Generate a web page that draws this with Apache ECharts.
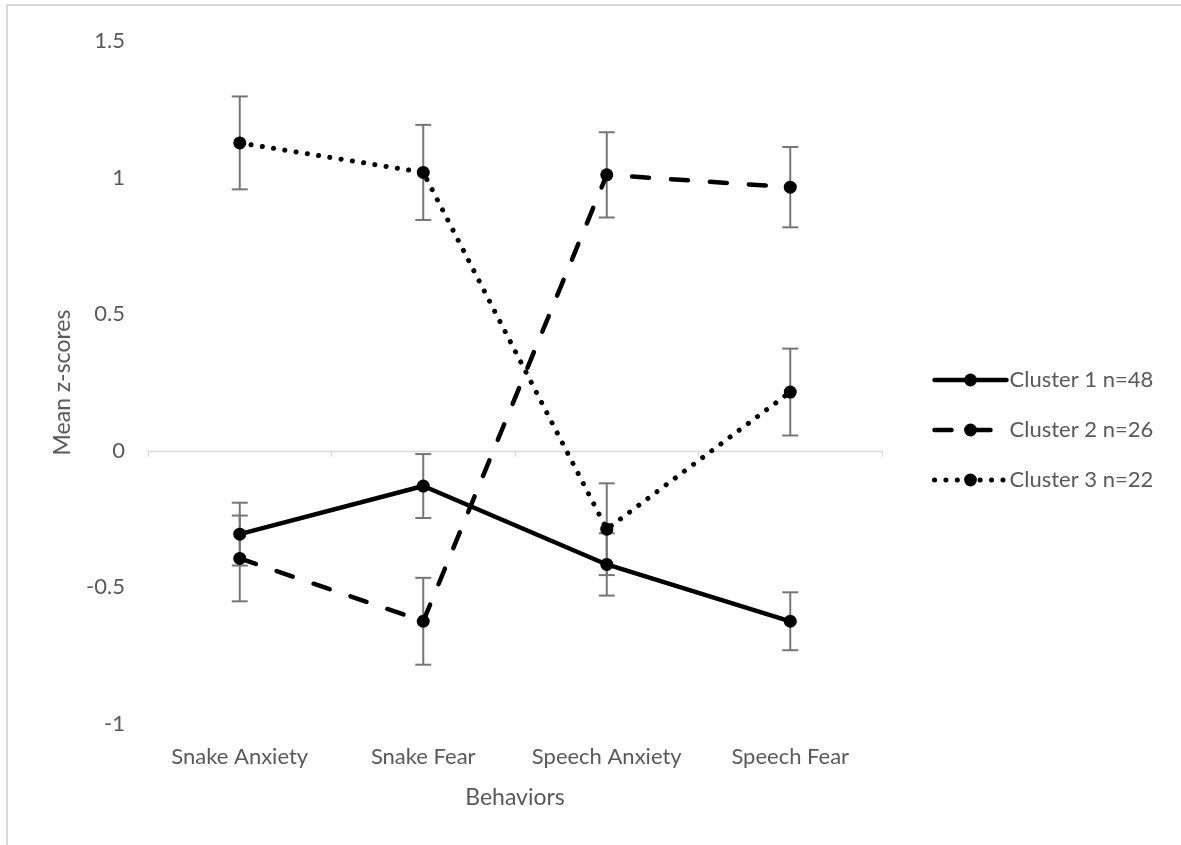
<!DOCTYPE html>
<html>
<head>
<meta charset="utf-8">
<script src="https://cdn.jsdelivr.net/npm/echarts@6/dist/echarts.min.js"></script>
<style>
  html, body { margin: 0; padding: 0; background: #fff; }
  #main { width: 1181px; height: 845px; }
</style>
</head>
<body>
<div id="main"></div>
<script>
// categories and values
var categories = ['Snake Anxiety', 'Snake Fear', 'Speech Anxiety', 'Speech Fear'];
var seriesNames = ['Cluster 1 n=48', 'Cluster 2 n=26', 'Cluster 3 n=22'];

var cluster1 = [-0.305, -0.129, -0.416, -0.624];
var cluster2 = [-0.394, -0.624, 1.010, 0.965];
var cluster3 = [1.127, 1.019, -0.287, 0.215];

// half-length of the error bars
var err1 = [0.115, 0.117, 0.114, 0.106];
var err2 = [0.157, 0.159, 0.156, 0.147];
var err3 = [0.170, 0.174, 0.168, 0.159];

var yTicks = { min: -1, max: 1.5, interval: 0.5 };

var font = 'Lato, "Open Sans", sans-serif';
var txt = '#595959';

var myChart = echarts.init(document.getElementById('main'));

function errData(vals, errs) {
	return vals.map(function (v, i) {
		return [i, v - errs[i], v + errs[i]];
	});
}

// draws one error bar with caps
function renderErr(params, api) {
	var lo = api.coord([api.value(0), api.value(1)]);
	var hi = api.coord([api.value(0), api.value(2)]);
	var w = 8;
	var st = { stroke: '#767676', lineWidth: 2 };
	return {
		type: 'group',
		children: [
			{ type: 'line', shape: { x1: lo[0], y1: lo[1], x2: hi[0], y2: hi[1] }, style: st },
			{ type: 'line', shape: { x1: lo[0] - w, y1: lo[1], x2: lo[0] + w, y2: lo[1] }, style: st },
			{ type: 'line', shape: { x1: hi[0] - w, y1: hi[1], x2: hi[0] + w, y2: hi[1] }, style: st }
		]
	};
}

function lineSeries(name, data, dash, width) {
	return {
		name: name,
		type: 'line',
		data: data,
		symbol: 'circle',
		symbolSize: 13,
		z: 5,
		itemStyle: { color: '#000' },
		lineStyle: { color: '#000', width: width, type: dash, cap: 'round' },
		emphasis: { disabled: true }
	};
}

function errSeries(vals, errs) {
	return {
		type: 'custom',
		renderItem: renderErr,
		data: errData(vals, errs),
		encode: { x: 0, y: [1, 2] },
		z: 2,
		silent: true
	};
}

myChart.setOption({
	animation: false,
	backgroundColor: '#fff',
	textStyle: { fontFamily: font },
	graphic: [{
		type: 'rect',
		shape: { x: 7, y: 5, width: 1300, height: 1000 },
		style: { fill: 'none', stroke: '#d9d9d9', lineWidth: 2 },
		silent: true
	}],
	grid: { left: 148, right: 299, top: 41, bottom: 121 },
	legend: {
		data: [
			{ name: seriesNames[0], lineStyle: { width: 4.5 } },
			{ name: seriesNames[1], lineStyle: { width: 4.5 } },
			{ name: seriesNames[2], lineStyle: { width: 5 } }
		],
		orient: 'vertical',
		left: 927,
		top: 364,
		itemWidth: 72,
		itemHeight: 16,
		itemGap: 28,
		textStyle: { color: txt, fontSize: 22, fontFamily: font, padding: [0, 0, 0, -2] }
	},
	xAxis: [{
		type: 'category',
		data: categories,
		position: 'bottom',
		axisLine: { onZero: true, lineStyle: { color: '#d9d9d9', width: 1.3 } },
		axisTick: { show: true, length: 6, lineStyle: { color: '#d9d9d9', width: 1.3 } },
		axisLabel: { show: false },
		splitLine: { show: false }
	}, {
		type: 'category',
		data: categories,
		position: 'bottom',
		axisLine: { show: false, onZero: false },
		axisTick: { show: false },
		axisLabel: { color: txt, fontSize: 22, margin: 22, interval: 0, hideOverlap: false },
		name: 'Behaviors',
		nameLocation: 'middle',
		nameGap: 62,
		nameTextStyle: { color: txt, fontSize: 23 },
		splitLine: { show: false }
	}],
	yAxis: {
		type: 'value',
		min: yTicks.min,
		max: yTicks.max,
		interval: yTicks.interval,
		axisLine: { show: false },
		axisTick: { show: false },
		splitLine: { show: false },
		axisLabel: { color: txt, fontSize: 22, margin: 23 },
		name: 'Mean z-scores',
		nameLocation: 'middle',
		nameGap: 74,
		nameRotate: 90,
		nameTextStyle: { color: txt, fontSize: 23 }
	},
	series: [
		errSeries(cluster1, err1),
		errSeries(cluster2, err2),
		errSeries(cluster3, err3),
		lineSeries(seriesNames[0], cluster1, 'solid', 4.5),
		lineSeries(seriesNames[1], cluster2, [17, 22], 4.5),
		lineSeries(seriesNames[2], cluster3, [0.1, 11.3], 5)
	]
});
</script>
</body>
</html>
